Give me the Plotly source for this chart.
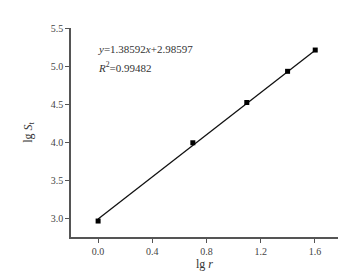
import plotly.graph_objects as go

# Data
lg_r = [0.0, 0.699, 1.097, 1.398, 1.602]
lg_St = [2.96, 3.99, 4.52, 4.93, 5.21]

# Fitted line coefficients (from the annotation)
slope = 1.38592
intercept = 2.98597
fit_x = [lg_r[0], lg_r[-1]]
fit_y = [slope * v + intercept for v in fit_x]

x_ticks = [0.0, 0.4, 0.8, 1.2, 1.6]
y_ticks = [3.0, 3.5, 4.0, 4.5, 5.0, 5.5]

font_family = "Liberation Serif, Times New Roman, serif"
axis_color = "#555555"

fig = go.Figure()
fig.add_trace(go.Scatter(x=fit_x, y=fit_y, mode="lines",
                         line=dict(color="#111111", width=1.3), showlegend=False))
fig.add_trace(go.Scatter(x=lg_r, y=lg_St, mode="markers",
                         marker=dict(symbol="square", size=5, color="#000000"),
                         showlegend=False))

fig.add_annotation(xref="paper", yref="paper", x=0.095, y=0.90, xanchor="left", yanchor="middle",
                   text="<i>y</i>=1.38592<i>x</i>+2.98597", showarrow=False,
                   font=dict(family=font_family, size=11, color="#333333"))
fig.add_annotation(xref="paper", yref="paper", x=0.095, y=0.815, xanchor="left", yanchor="middle",
                   text="<i>R</i><sup>2</sup>=0.99482", showarrow=False,
                   font=dict(family=font_family, size=11, color="#333333"))

fig.update_layout(
    width=350, height=273,
    margin=dict(l=63, r=20, t=20, b=41),
    plot_bgcolor="white", paper_bgcolor="white",
    font=dict(family=font_family, size=10, color="#444444"),
    xaxis=dict(range=[-0.2, 1.77], tickvals=x_ticks, ticktext=[f"{v:.1f}" for v in x_ticks],
               showgrid=False, zeroline=False, showline=True, linecolor=axis_color, linewidth=1.6,
               ticks="outside", ticklen=4, tickcolor=axis_color, tickwidth=1,
               title=dict(text="lg <i>r</i>", standoff=4, font=dict(size=12, color="#333333"))),
    yaxis=dict(range=[2.75, 5.5], tickvals=y_ticks, ticktext=[f"{v:.1f}" for v in y_ticks],
               showgrid=False, zeroline=False, showline=True, linecolor=axis_color, linewidth=1.6,
               ticks="outside", ticklen=4, tickcolor=axis_color, tickwidth=1,
               title=dict(text="lg <i>S</i><sub>t</sub>", standoff=16, font=dict(size=12, color="#333333"))),
)

fig.write_html("out.html")
